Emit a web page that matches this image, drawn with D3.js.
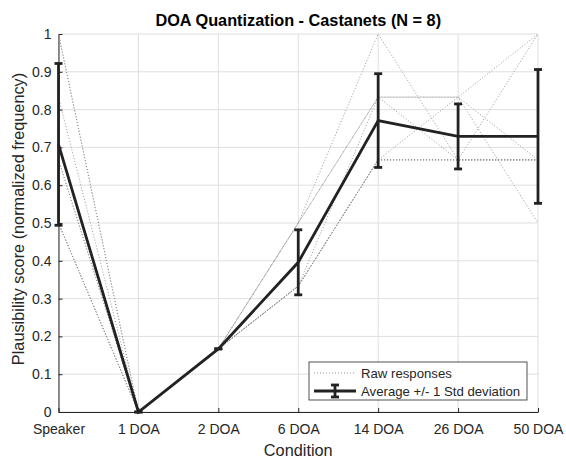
<!DOCTYPE html>
<html>
<head>
<meta charset="utf-8">
<style>
  body { margin: 0; background: #fff; }
  svg { font-family: "Liberation Sans", Arial, Helvetica, sans-serif; }
  .tick text { fill: #262626; font-size: 14px; }
</style>
<script src="https://cdn.jsdelivr.net/npm/d3@7"></script>
</head>
<body>
<script>
// conditions on the x axis
var conditions = ["Speaker", "1 DOA", "2 DOA", "6 DOA", "14 DOA", "26 DOA", "50 DOA"];

// raw responses, one row per listener (normalized frequency)
var raw1 = [1.000, 0, 0.167, 0.500, 1.000, 0.667, 0.667];
var raw2 = [1.000, 0, 0.167, 0.500, 0.833, 0.833, 1.000];
var raw3 = [0.833, 0, 0.167, 0.500, 0.833, 0.833, 0.500];
var raw4 = [0.667, 0, 0.167, 0.333, 0.833, 0.667, 1.000];
var raw5 = [0.667, 0, 0.167, 0.333, 0.667, 0.833, 0.667];
var raw6 = [0.500, 0, 0.167, 0.333, 0.667, 0.667, 0.667];
var raw7 = [0.500, 0, 0.167, 0.333, 0.667, 0.667, 0.667];
var raw8 = [0.500, 0, 0.167, 0.333, 0.667, 0.667, 0.667];
var rawResponses = [raw1, raw2, raw3, raw4, raw5, raw6, raw7, raw8];

// average and std deviation
var average = [0.708, 0, 0.167, 0.396, 0.771, 0.729, 0.729];
var stdDev  = [0.214, 0, 0, 0.086, 0.124, 0.086, 0.177];

var yTicks = [0, 0.1, 0.2, 0.3, 0.4, 0.5, 0.6, 0.7, 0.8, 0.9, 1];

var width = 566, height = 459;
var margin = {top: 34, right: 28, bottom: 47, left: 58.5};

var svg = d3.select("body").append("svg")
  .attr("width", width)
  .attr("height", height);

var x = d3.scalePoint()
  .domain(conditions)
  .range([margin.left, width - margin.right]);

var y = d3.scaleLinear()
  .domain([0, 1])
  .range([height - margin.bottom, margin.top]);

var axisColor = "#262626";

// grid
var grid = svg.append("g").attr("stroke", "#dfdfdf").attr("stroke-width", 1);
grid.selectAll(".gx").data(conditions).enter().append("line")
  .attr("x1", function (d) { return x(d); })
  .attr("x2", function (d) { return x(d); })
  .attr("y1", y(0)).attr("y2", y(1));
grid.selectAll(".gy").data(yTicks).enter().append("line")
  .attr("x1", x.range()[0]).attr("x2", x.range()[1])
  .attr("y1", function (d) { return y(d); })
  .attr("y2", function (d) { return y(d); });

// axes
var xAxis = svg.append("g")
  .attr("transform", "translate(0," + y(0) + ")")
  .call(d3.axisBottom(x).tickSize(-4).tickPadding(12).tickSizeOuter(0));
var yAxis = svg.append("g")
  .attr("transform", "translate(" + x.range()[0] + ",0)")
  .call(d3.axisLeft(y).tickValues(yTicks).tickSize(-4).tickPadding(7).tickSizeOuter(0)
    .tickFormat(function (d) { return String(+d.toFixed(1)); }));
[xAxis, yAxis].forEach(function (a) {
  a.select(".domain").attr("stroke", axisColor);
  a.selectAll(".tick line").attr("stroke", axisColor);
  a.selectAll(".tick text").style("font-family", "inherit");
});

// raw responses
var line = d3.line()
  .x(function (d, i) { return x(conditions[i]); })
  .y(function (d) { return y(d); });

svg.append("g").selectAll("path").data(rawResponses).enter().append("path")
  .attr("d", line)
  .attr("fill", "none")
  .attr("stroke", "#8c8c8c")
  .attr("stroke-width", 0.9)
  .attr("stroke-dasharray", "1,2");

// average line
svg.append("path")
  .datum(average)
  .attr("d", line)
  .attr("fill", "none")
  .attr("stroke", "#222")
  .attr("stroke-width", 2.8);

// error bars
var eb = svg.append("g").attr("stroke", "#222").attr("stroke-width", 2.8);
var capW = 4;
average.forEach(function (m, i) {
  var cx = x(conditions[i]);
  var lo = y(m - stdDev[i]), hi = y(m + stdDev[i]);
  eb.append("line").attr("x1", cx).attr("x2", cx).attr("y1", lo).attr("y2", hi);
  eb.append("line").attr("x1", cx - capW).attr("x2", cx + capW).attr("y1", lo).attr("y2", lo);
  eb.append("line").attr("x1", cx - capW).attr("x2", cx + capW).attr("y1", hi).attr("y2", hi);
});

// title and labels
svg.append("text")
  .attr("x", (x.range()[0] + x.range()[1]) / 2)
  .attr("y", 26)
  .attr("text-anchor", "middle")
  .attr("font-weight", "bold")
  .attr("font-size", 16.3)
  .attr("fill", "#000")
  .text("DOA Quantization - Castanets (N = 8)");

svg.append("text")
  .attr("x", (x.range()[0] + x.range()[1]) / 2)
  .attr("y", 456)
  .attr("text-anchor", "middle")
  .attr("font-size", 16.3)
  .attr("fill", axisColor)
  .text("Condition");

svg.append("text")
  .attr("transform", "translate(23.5,219) rotate(-90)")
  .attr("text-anchor", "middle")
  .attr("font-size", 16.3)
  .attr("fill", axisColor)
  .text("Plausibility score (normalized frequency)");

// legend
var lg = svg.append("g").attr("transform", "translate(309,362)");
lg.append("rect")
  .attr("width", 218).attr("height", 38)
  .attr("fill", "#fff").attr("stroke", axisColor).attr("stroke-width", 0.8);
lg.append("line")
  .attr("x1", 5).attr("x2", 47).attr("y1", 11).attr("y2", 11)
  .attr("stroke", "#8c8c8c").attr("stroke-width", 0.9).attr("stroke-dasharray", "1,2");
lg.append("text").attr("x", 52).attr("y", 15.5).attr("font-size", 13.2).attr("fill", axisColor)
  .text("Raw responses");
var lg2 = lg.append("g").attr("stroke", "#222").attr("stroke-width", 2.8);
lg2.append("line").attr("x1", 5).attr("x2", 47).attr("y1", 29).attr("y2", 29);
lg2.append("line").attr("x1", 26).attr("x2", 26).attr("y1", 23).attr("y2", 35);
lg2.append("line").attr("x1", 22).attr("x2", 30).attr("y1", 23).attr("y2", 23);
lg2.append("line").attr("x1", 22).attr("x2", 30).attr("y1", 35).attr("y2", 35);
lg.append("text").attr("x", 52).attr("y", 33.5).attr("font-size", 13.2).attr("fill", axisColor)
  .text("Average +/- 1 Std deviation");
</script>
</body>
</html>
